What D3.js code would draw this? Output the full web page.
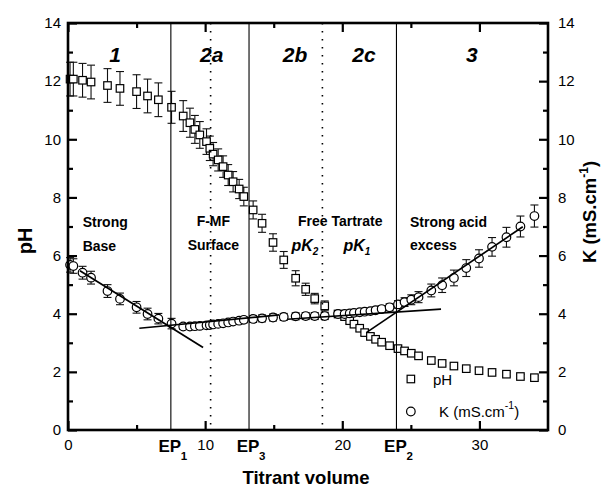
<!DOCTYPE html>
<html><head><meta charset="utf-8">
<script src="https://cdn.jsdelivr.net/npm/d3@7"></script>
<style>
body{margin:0;background:#fff}
svg{display:block}
text{font-family:"Liberation Sans",Arial,Helvetica,sans-serif}
</style>
</head><body>
<svg id="chart" width="602" height="489"></svg>
<script>
// ---- data ----
const volume = [0.15,0.39,1.06,1.68,2.88,3.79,5.0,5.8,6.59,7.55,
  8.40,8.89,9.25,9.61,10.10,10.34,10.58,10.95,11.31,11.68,12.04,12.48,12.82,
  13.50,14.15,14.95,15.73,16.60,17.33,17.99,18.72,
  19.69,20.17,20.54,20.85,21.27,21.63,22.05,22.43,22.87,23.45,24.06,24.54,25.03,25.56,26.49,27.28,28.14,29.04,29.97,30.92,31.97,32.99,34.01];
const pH = [12.07,12.07,12.03,11.97,11.85,11.75,11.64,11.49,11.36,11.10,
  10.80,10.57,10.34,10.15,9.92,9.69,9.49,9.29,9.06,8.77,8.54,8.29,8.03,
  7.57,7.11,6.45,5.85,5.22,4.84,4.52,4.27,
  3.99,3.90,3.76,3.64,3.50,3.35,3.22,3.12,3.02,2.90,2.80,2.72,2.64,2.55,2.39,2.29,2.20,2.11,2.04,1.98,1.92,1.84,1.80];
const pHErr = [0.58,0.58,0.58,0.58,0.58,0.58,0.58,0.58,0.58,0.55,
  0.53,0.50,0.48,0.46,0.44,0.42,0.40,0.38,0.37,0.36,0.35,0.33,0.32,
  0.31,0.31,0.30,0.29,0.26,0.21,0.18,0.17,
  0.12,0.12,0.11,0.11,0.10,0.10,0.10,0.10,0.09,0.09,0.09,0.08,0.08,0.08,0.08,0.08,0.08,0.07,0.07,0.07,0.07,0.07,0.07];
const conductivity = [5.68,5.64,5.41,5.24,4.78,4.51,4.22,3.99,3.83,3.66,
  3.56,3.56,3.57,3.58,3.60,3.61,3.63,3.65,3.67,3.70,3.73,3.76,3.79,
  3.82,3.84,3.87,3.89,3.91,3.92,3.92,3.92,
  3.99,3.99,4.01,4.03,4.05,4.07,4.09,4.12,4.16,4.22,4.32,4.40,4.48,4.57,4.80,4.98,5.23,5.57,5.90,6.30,6.63,7.00,7.36];
const condErr = [0.25,0.25,0.22,0.22,0.22,0.20,0.20,0.20,0.18,0.18,
  0.10,0.10,0.10,0.10,0.10,0.10,0.10,0.10,0.10,0.10,0.10,0.10,0.10,
  0.12,0.12,0.12,0.12,0.12,0.12,0.12,0.12,
  0.10,0.10,0.10,0.10,0.10,0.10,0.10,0.11,0.11,0.12,0.13,0.15,0.17,0.19,0.22,0.25,0.27,0.29,0.30,0.32,0.34,0.36,0.38];

const xMajorTicks = [0,10,20,30];
const xMinorTicks = [5,15,25];
const yMajorTicks = [0,2,4,6,8,10,12,14];
const yMinorTicks = [1,3,5,7,9,11,13];
const endPointVolumes = [7.5,13.2,23.95];
const endPointSubs = ["1","3","2"];
const dottedVolumes = [10.4,18.55];
const regionNames = ["1","2a","2b","2c","3"];
const regionCenters = [3.43,10.48,16.55,21.58,29.44];
const fitLines = [
  [[0.87,5.48],[9.85,2.84]],
  [[5.2,3.50],[15.4,3.96]],
  [[16.0,3.81],[27.2,4.16]],
  [[21.75,3.35],[33.16,6.99]]
];

// ---- layout ----
const L=68, R=548, T=23, B=430;
const svg = d3.select("#chart");
const x = d3.scaleLinear().domain([0,35]).range([L,R]);
const y = d3.scaleLinear().domain([0,14]).range([B,T]);
const yK = d3.scaleLinear().domain([0,14]).range([B,T]);

const pts = volume.map((v,i)=>({v, ph:pH[i], pe:pHErr[i], k:conductivity[i], ke:condErr[i]}));

// axes
function styleAxis(g){
  g.select(".domain").remove();
  g.selectAll(".tick line").attr("stroke","#000").attr("stroke-width",2.2);
  g.selectAll(".tick text").attr("font-size",15).attr("fill","#000")
    .style("font-family",'"Liberation Sans",Arial,sans-serif');
}
svg.append("g").attr("transform",`translate(0,${B})`)
  .call(d3.axisBottom(x).tickValues(xMajorTicks).tickSize(-9).tickPadding(9).tickFormat(d3.format("d")))
  .call(styleAxis);
svg.append("g").attr("transform",`translate(0,${B})`)
  .call(d3.axisBottom(x).tickValues(xMinorTicks).tickSize(-5).tickFormat(""))
  .call(styleAxis);
svg.append("g").attr("transform",`translate(0,${T})`)
  .call(d3.axisTop(x).tickValues(xMajorTicks).tickSize(-9).tickFormat(""))
  .call(styleAxis);
svg.append("g").attr("transform",`translate(0,${T})`)
  .call(d3.axisTop(x).tickValues(xMinorTicks).tickSize(-5).tickFormat(""))
  .call(styleAxis);
svg.append("g").attr("transform",`translate(${L},0)`)
  .call(d3.axisLeft(y).tickValues(yMajorTicks).tickSize(-9).tickPadding(7).tickFormat(d3.format("d")))
  .call(styleAxis);
svg.append("g").attr("transform",`translate(${L},0)`)
  .call(d3.axisLeft(y).tickValues(yMinorTicks).tickSize(-5).tickFormat(""))
  .call(styleAxis);
svg.append("g").attr("transform",`translate(${R},0)`)
  .call(d3.axisRight(yK).tickValues(yMajorTicks).tickSize(-9).tickPadding(10).tickFormat(d3.format("d")))
  .call(styleAxis);
svg.append("g").attr("transform",`translate(${R},0)`)
  .call(d3.axisRight(yK).tickValues(yMinorTicks).tickSize(-5).tickFormat(""))
  .call(styleAxis);

// error bars
const cap = 4;
function errBars(cls, val, err, sc){
  const g = svg.append("g").attr("class",cls).attr("stroke","#111").attr("stroke-width",1.1).attr("fill","none");
  const sel = g.selectAll("g").data(pts).join("g");
  sel.append("line").attr("x1",d=>x(d.v)).attr("x2",d=>x(d.v))
    .attr("y1",d=>sc(d[val]-d[err])).attr("y2",d=>sc(d[val]+d[err]));
  sel.append("line").attr("x1",d=>x(d.v)-cap).attr("x2",d=>x(d.v)+cap)
    .attr("y1",d=>sc(d[val]+d[err])).attr("y2",d=>sc(d[val]+d[err]));
  sel.append("line").attr("x1",d=>x(d.v)-cap).attr("x2",d=>x(d.v)+cap)
    .attr("y1",d=>sc(d[val]-d[err])).attr("y2",d=>sc(d[val]-d[err]));
}
errBars("phErr","ph","pe",y);
errBars("kErr","k","ke",yK);

// markers
const sq = 7.5;
svg.append("g").selectAll("rect").data(pts).join("rect")
  .attr("x",d=>x(d.v)-sq/2).attr("y",d=>y(d.ph)-sq/2).attr("width",sq).attr("height",sq)
  .attr("fill","#fff").attr("stroke","#000").attr("stroke-width",1.2);
svg.append("g").selectAll("circle").data(pts).join("circle")
  .attr("cx",d=>x(d.v)).attr("cy",d=>yK(d.k)).attr("r",4.3)
  .attr("fill","#fff").attr("stroke","#000").attr("stroke-width",1.2);

// vertical lines
svg.append("g").selectAll("line").data(endPointVolumes).join("line")
  .attr("x1",d=>x(d)).attr("x2",d=>x(d)).attr("y1",T).attr("y2",B)
  .attr("stroke","#000").attr("stroke-width",1.1);
svg.append("g").selectAll("line").data(dottedVolumes).join("line")
  .attr("x1",d=>x(d)).attr("x2",d=>x(d)).attr("y1",T).attr("y2",B)
  .attr("stroke","#000").attr("stroke-width",1.6).attr("stroke-dasharray","1.6,6.4");

// fit lines
const lineGen = d3.line().x(d=>x(d[0])).y(d=>yK(d[1]));
svg.append("g").selectAll("path").data(fitLines).join("path")
  .attr("d",lineGen).attr("stroke","#000").attr("stroke-width",1.7).attr("fill","none");

// frame
svg.append("rect").attr("x",L).attr("y",T).attr("width",R-L).attr("height",B-T)
  .attr("fill","none").attr("stroke","#000").attr("stroke-width",2.6);

// region labels
svg.append("g").selectAll("text").data(regionNames).join("text")
  .attr("x",(d,i)=>x(regionCenters[i])).attr("y",61.5).attr("text-anchor","middle")
  .attr("font-size",21).attr("font-weight","bold").attr("font-style","italic").text(d=>d);

// annotations
function ann(txt, xv, yp, opts={}){
  return svg.append("text").attr("x",x(xv)).attr("y",yp)
    .attr("font-size",opts.size||14).attr("font-weight","bold")
    .attr("text-anchor",opts.anchor||"start").text(txt);
}
ann("Strong",1.07,226.5);
ann("Base",1.07,250.5);
ann("F-MF",10.6,226,{anchor:"middle"});
ann("Surface",10.6,250,{anchor:"middle"});
ann("Free Tartrate",16.77,226);
ann("Strong acid",24.94,226.5);
ann("excess",24.94,250);
function pk(xv, sub){
  const t = svg.append("text").attr("x",x(xv)).attr("y",251).attr("font-size",16)
    .attr("font-weight","bold").attr("font-style","italic");
  t.append("tspan").text("pK");
  t.append("tspan").attr("font-size",10).attr("dy",4).text(sub);
}
pk(16.3,"2");
pk(20.08,"1");

// EP labels
endPointVolumes.forEach((v,i)=>{
  svg.append("text").attr("x",x(v)-1).attr("y",451.5).attr("text-anchor","middle")
    .attr("font-size",17).attr("font-weight","bold").text("EP");
  svg.append("text").attr("x",x(v)+10).attr("y",459.5)
    .attr("font-size",11.5).attr("font-weight","bold").text(endPointSubs[i]);
});

// axis titles
svg.append("text").attr("x",(x(0)+x(35))/2-2).attr("y",484).attr("text-anchor","middle")
  .attr("font-size",18.5).attr("font-weight","bold").text("Titrant volume");
svg.append("text").attr("transform","translate(32,241) rotate(-90)").attr("text-anchor","middle")
  .attr("font-size",20).attr("font-weight","bold").text("pH");
const kt = svg.append("text").attr("transform","translate(596,212) rotate(-90)").attr("text-anchor","middle")
  .attr("font-size",18.5).attr("font-weight","bold");
kt.append("tspan").text("K (mS.cm");
kt.append("tspan").attr("font-size",12).attr("dy",-8).text("-1");
kt.append("tspan").attr("dy",8).text(")");

// legend
const lg = svg.append("g");
lg.append("rect").attr("x",x(25.0)-sq/2).attr("y",379-sq/2).attr("width",sq).attr("height",sq)
  .attr("fill","#fff").attr("stroke","#000").attr("stroke-width",1.2);
lg.append("text").attr("x",433).attr("y",385).attr("font-size",15).text("pH");
lg.append("circle").attr("cx",x(25.0)).attr("cy",411.5).attr("r",4.3)
  .attr("fill","#fff").attr("stroke","#000").attr("stroke-width",1.2);
const lt = lg.append("text").attr("x",439).attr("y",417).attr("font-size",15);
lt.append("tspan").text("K (mS.cm");
lt.append("tspan").attr("font-size",10.5).attr("dy",-8).text("-1");
lt.append("tspan").attr("dy",8).text(")");
</script>
</body></html>
